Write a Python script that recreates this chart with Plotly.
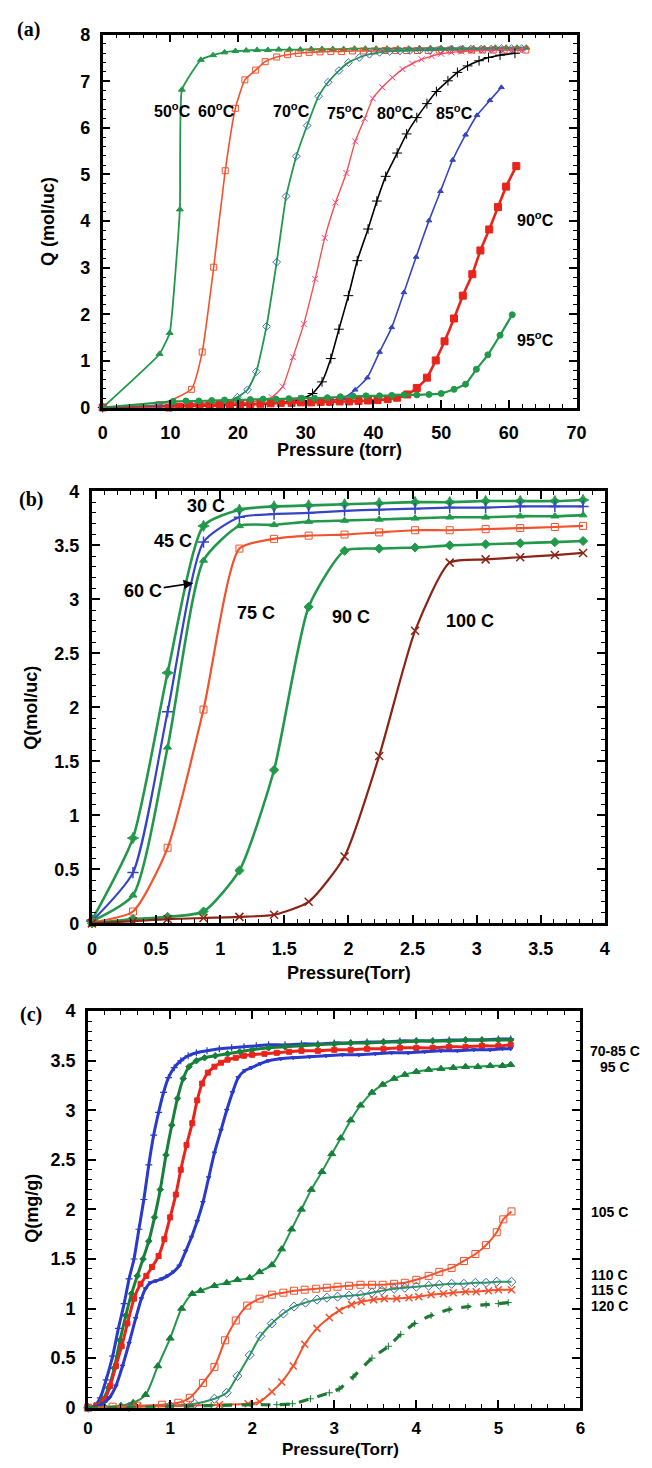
import plotly.graph_objects as go

W, H = 652, 1468

# ---------------- panel (a): Q (mol/uc) vs pressure (torr) ----------------
a_x50 = [0, 8.4, 9.9, 11.4, 11.7, 14.5, 16.3, 18.0, 19.6, 21.2, 22.8, 24.4, 26.0, 27.6, 29.2, 30.8, 32.4, 34.0,
         35.6, 37.2, 38.8, 40.4, 42.0, 43.6, 45.2, 46.8, 48.4, 50.0, 51.6, 53.2, 54.8, 56.4, 58.0, 59.6, 61.2, 62.6]
a_y50 = [0, 1.15, 1.6, 4.25, 6.82, 7.46, 7.56, 7.62, 7.65, 7.66, 7.67, 7.67, 7.68, 7.68, 7.68, 7.69, 7.69, 7.69,
         7.69, 7.70, 7.70, 7.70, 7.70, 7.70, 7.70, 7.71, 7.71, 7.71, 7.71, 7.71, 7.71, 7.71, 7.72, 7.72, 7.72, 7.72]

a_x60 = [0, 8.3, 13.1, 14.7, 16.4, 18.1, 19.6, 21.0, 22.6, 24.0, 25.7, 27.3, 28.9, 30.5, 32.1, 33.7, 35.3,
         36.9, 38.5, 40.1, 41.7, 43.3, 44.9, 46.5, 48.1, 49.7, 51.3, 52.9, 54.5, 56.1, 57.7, 59.3, 60.9, 62.5]
a_y60 = [0, 0.06, 0.39, 1.19, 3.01, 5.08, 6.42, 7.03, 7.24, 7.42, 7.52, 7.57, 7.60, 7.62, 7.63, 7.64, 7.64,
         7.65, 7.65, 7.65, 7.66, 7.66, 7.66, 7.66, 7.66, 7.67, 7.67, 7.67, 7.67, 7.67, 7.67, 7.67, 7.67, 7.67]

a_x70 = [0, 8.2, 14.0, 18.0, 19.9, 21.4, 22.7, 24.2, 25.7, 27.1, 28.6, 30.2, 31.9, 33.3, 34.9, 36.3, 37.9,
         39.4, 40.9, 42.4, 43.9, 45.4, 46.9, 48.4, 49.9, 51.4, 52.9, 54.4, 55.9, 57.4, 58.9, 60.4, 61.9]
a_y70 = [0, 0.04, 0.08, 0.13, 0.22, 0.38, 0.77, 1.74, 3.12, 4.53, 5.39, 6.05, 6.68, 6.98, 7.23, 7.40, 7.51,
         7.58, 7.62, 7.64, 7.65, 7.66, 7.67, 7.67, 7.68, 7.68, 7.68, 7.69, 7.69, 7.69, 7.70, 7.70, 7.70]

a_x75 = [0, 8.0, 16.0, 22.0, 25.0, 26.6, 28.1, 29.7, 31.4, 32.8, 34.4, 36.0, 37.3, 38.7, 39.9, 41.3, 42.8,
         44.3, 45.7, 47.1, 48.6, 50.0, 51.5, 53.0, 54.5, 56.0, 57.5, 59.0, 60.5, 62.0]
a_y75 = [0, 0.03, 0.08, 0.12, 0.22, 0.45, 1.08, 1.79, 2.76, 3.64, 4.40, 5.03, 5.71, 6.20, 6.63, 6.87, 7.08,
         7.26, 7.38, 7.47, 7.54, 7.59, 7.62, 7.64, 7.65, 7.66, 7.66, 7.67, 7.67, 7.67]

a_x80 = [0, 10.0, 20.0, 26.0, 29.0, 31.0, 32.4, 33.7, 34.9, 36.3, 37.6, 39.2, 40.5, 41.8, 43.5, 44.9, 46.4,
         47.9, 49.3, 51.0, 52.4, 53.9, 55.6, 57.0, 58.7, 60.9]
a_y80 = [0, 0.02, 0.05, 0.10, 0.16, 0.30, 0.55, 1.05, 1.68, 2.40, 3.15, 3.83, 4.43, 4.96, 5.46, 5.87, 6.22,
         6.52, 6.78, 7.01, 7.19, 7.33, 7.44, 7.51, 7.56, 7.60]

a_x85 = [0, 10, 20, 28, 33.0, 35.5, 37.3, 39.1, 40.9, 42.7, 44.5, 46.3, 48.2, 49.9, 51.7, 53.6, 55.3, 57.2, 58.9]
a_y85 = [0, 0.03, 0.07, 0.10, 0.14, 0.20, 0.38, 0.64, 1.19, 1.72, 2.47, 3.23, 4.01, 4.64, 5.31, 5.85, 6.27,
         6.59, 6.87]

a_x90 = [0, 9.8, 11.3, 12.8, 14.3, 15.8, 17.3, 18.8, 20.3, 21.8, 23.3, 24.8, 26.3, 27.9, 29.3, 30.8, 32.2,
         33.6, 35.0, 36.4, 37.8, 39.2, 40.6, 42.1, 43.5, 45.0, 46.4, 47.9, 49.2, 50.5, 51.9, 53.2, 54.6,
         55.8, 57.1, 58.4, 59.6, 61.1]
a_y90 = [0, 0.0, 0.02, 0.03, 0.04, 0.05, 0.05, 0.06, 0.07, 0.07, 0.08, 0.09, 0.10, 0.10, 0.11, 0.11, 0.12,
         0.12, 0.13, 0.13, 0.14, 0.15, 0.16, 0.18, 0.21, 0.28, 0.42, 0.64, 1.01, 1.42, 1.91, 2.40, 2.86,
         3.37, 3.82, 4.30, 4.74, 5.18]

a_x95 = [0, 10.4, 12.3, 14.2, 16.1, 18.0, 19.9, 21.8, 23.7, 25.6, 27.5, 29.4, 31.3, 33.2, 35.1, 37.0, 38.9,
         40.9, 42.7, 44.5, 46.4, 48.2, 50.0, 51.9, 53.6, 55.2, 56.9, 58.7, 60.5]
a_y95 = [0, 0.13, 0.14, 0.14, 0.15, 0.16, 0.16, 0.17, 0.18, 0.18, 0.19, 0.20, 0.20, 0.21, 0.23, 0.24, 0.25,
         0.25, 0.26, 0.27, 0.27, 0.28, 0.30, 0.39, 0.50, 0.82, 1.13, 1.55, 1.99]

a_labels = ["50<sup>o</sup>C", "60<sup>o</sup>C", "70<sup>o</sup>C", "75<sup>o</sup>C", "80<sup>o</sup>C",
            "85<sup>o</sup>C", "90<sup>o</sup>C", "95<sup>o</sup>C"]
a_label_x = [10.3, 16.8, 27.9, 35.9, 43.2, 52.0, 64.0, 64.0]
a_label_y = [6.38, 6.38, 6.38, 6.34, 6.34, 6.33, 4.04, 1.47]

# ---------------- panel (b): Q (mol/uc) vs pressure (Torr) ----------------
b_x = [0, 0.32, 0.59, 0.87, 1.15, 1.42, 1.69, 1.97, 2.24, 2.52, 2.79, 3.07, 3.34, 3.61, 3.83]
b_y30 = [0.03, 0.79, 2.32, 3.68, 3.83, 3.86, 3.87, 3.88, 3.89, 3.90, 3.90, 3.91, 3.91, 3.91, 3.92]
b_y45 = [0.02, 0.47, 1.96, 3.53, 3.76, 3.79, 3.80, 3.82, 3.83, 3.84, 3.85, 3.85, 3.86, 3.86, 3.86]
b_y60 = [0.02, 0.26, 1.63, 3.36, 3.68, 3.69, 3.72, 3.73, 3.74, 3.75, 3.76, 3.76, 3.77, 3.77, 3.78]
b_y75 = [0.01, 0.11, 0.70, 1.98, 3.47, 3.56, 3.59, 3.60, 3.62, 3.64, 3.64, 3.65, 3.66, 3.67, 3.68]
b_y90 = [0.0, 0.04, 0.06, 0.11, 0.49, 1.42, 2.93, 3.45, 3.47, 3.48, 3.50, 3.51, 3.52, 3.53, 3.54]
b_y100 = [0.0, 0.02, 0.04, 0.05, 0.06, 0.08, 0.20, 0.62, 1.55, 2.71, 3.34, 3.37, 3.39, 3.41, 3.43]

b_labels = ["30 C", "45 C", "75 C", "90 C", "100 C"]
b_label_x = [0.89, 0.63, 1.28, 2.02, 2.95]
b_label_y = [3.86, 3.54, 2.87, 2.84, 2.80]

# ---------------- panel (c): Q (mg/g) vs pressure (Torr) ----------------
c_x70 = [0, 0.08, 0.15, 0.22, 0.3, 0.37, 0.44, 0.5, 0.56, 0.62, 0.68, 0.74, 0.8, 0.86, 0.92, 0.98, 1.05,
         1.13, 1.22, 1.32, 1.45, 1.6, 1.75, 1.9, 2.05, 2.2, 2.4, 2.6, 2.8, 3.0, 3.2, 3.4, 3.6, 3.8, 4.0,
         4.2, 4.4, 4.6, 4.8, 5.0, 5.15]
c_y70 = [0, 0.02, 0.1, 0.28, 0.52, 0.8, 1.05, 1.3, 1.5, 1.8, 2.1, 2.45, 2.75, 2.98, 3.18, 3.33, 3.43,
         3.5, 3.55, 3.58, 3.6, 3.62, 3.63, 3.64, 3.65, 3.66, 3.66, 3.67, 3.67, 3.68, 3.68, 3.69, 3.69, 3.7,
         3.7, 3.7, 3.71, 3.71, 3.71, 3.72, 3.72]

c_x75 = [0, 0.1, 0.18, 0.25, 0.32, 0.39, 0.46, 0.53, 0.6, 0.67, 0.74, 0.81, 0.88, 0.95, 1.02, 1.09, 1.16,
         1.23, 1.32, 1.42, 1.55, 1.7, 1.85, 2.0, 2.2, 2.4, 2.6, 2.8, 3.0, 3.2, 3.4, 3.6, 3.8, 4.0, 4.2,
         4.4, 4.6, 4.8, 5.0, 5.15]
c_y75 = [0, 0.02, 0.08, 0.2, 0.4, 0.68, 0.93, 1.15, 1.33, 1.5, 1.68, 1.92, 2.2, 2.55, 2.85, 3.12, 3.32,
         3.44, 3.5, 3.53, 3.55, 3.57, 3.59, 3.61, 3.63, 3.64, 3.65, 3.66, 3.67, 3.68, 3.68, 3.69, 3.69,
         3.70, 3.70, 3.70, 3.71, 3.71, 3.71, 3.71]

c_x80 = [0, 0.1, 0.2, 0.27, 0.34, 0.41, 0.48, 0.56, 0.64, 0.71, 0.78, 0.86, 0.93, 1.0, 1.07, 1.13, 1.2,
         1.27, 1.33, 1.39, 1.46, 1.54, 1.62, 1.7, 1.8, 1.9, 2.0, 2.15, 2.3, 2.45, 2.6, 2.8, 3.0, 3.2, 3.4,
         3.6, 3.8, 4.0, 4.2, 4.4, 4.6, 4.8, 5.0, 5.15]
c_y80 = [0, 0.02, 0.08, 0.22, 0.42, 0.62, 0.85, 1.1, 1.25, 1.33, 1.42, 1.53, 1.7, 1.92, 2.15, 2.4, 2.65,
         2.87, 3.1, 3.27, 3.38, 3.44, 3.48, 3.51, 3.53, 3.55, 3.56, 3.57, 3.58, 3.59, 3.6, 3.6, 3.61, 3.61,
         3.62, 3.62, 3.63, 3.63, 3.63, 3.64, 3.64, 3.65, 3.65, 3.66]

c_x85 = [0, 0.1, 0.18, 0.26, 0.34, 0.42, 0.5, 0.58, 0.65, 0.7, 0.76, 0.83, 0.9, 0.97, 1.04, 1.11, 1.19,
         1.26, 1.33, 1.4, 1.47, 1.54, 1.62, 1.69, 1.76, 1.83, 1.91, 1.99, 2.1, 2.2, 2.35, 2.5, 2.7, 2.9,
         3.1, 3.3, 3.5, 3.7, 3.9, 4.1, 4.3, 4.5, 4.7, 4.9, 5.05, 5.15]
c_y85 = [0, 0.01, 0.04, 0.1, 0.22, 0.42, 0.65, 0.9, 1.1, 1.2, 1.26, 1.28, 1.3, 1.33, 1.37, 1.43, 1.58,
         1.72, 1.88, 2.07, 2.32, 2.57, 2.8, 3.0, 3.18, 3.33, 3.4, 3.43, 3.47, 3.5, 3.52, 3.53, 3.54, 3.55,
         3.56, 3.56, 3.57, 3.58, 3.58, 3.59, 3.6, 3.6, 3.61, 3.61, 3.62, 3.62]

c_x95 = [0, 0.2, 0.4, 0.55, 0.7, 0.85, 1.0, 1.14, 1.27, 1.37, 1.54, 1.69, 1.82, 1.97, 2.09, 2.24, 2.36,
         2.48, 2.6, 2.72, 2.85, 2.97, 3.08, 3.2, 3.32, 3.46, 3.59, 3.73, 3.86, 4.0, 4.15, 4.3, 4.45, 4.6,
         4.75, 4.9, 5.05, 5.15]
c_y95 = [0, 0.01, 0.02, 0.05, 0.13, 0.42, 0.7, 1.0, 1.15, 1.18, 1.23, 1.26, 1.29, 1.31, 1.37, 1.44, 1.6,
         1.8, 2.0, 2.2, 2.38, 2.56, 2.72, 2.9, 3.05, 3.18, 3.26, 3.32, 3.36, 3.39, 3.41, 3.42, 3.43, 3.44,
         3.44, 3.45, 3.45, 3.46]

c_x105 = [0, 0.3, 0.6, 0.9, 1.1, 1.24, 1.4, 1.54, 1.67, 1.8, 1.94, 2.09, 2.24, 2.38, 2.51, 2.64, 2.78,
          2.91, 3.04, 3.18, 3.32, 3.46, 3.59, 3.73, 3.86, 4.0, 4.15, 4.28, 4.43, 4.58, 4.72, 4.85, 4.98,
          5.06, 5.16]
c_y105 = [0, 0.01, 0.02, 0.03, 0.05, 0.1, 0.25, 0.41, 0.68, 0.88, 1.03, 1.1, 1.14, 1.16, 1.18, 1.19, 1.2,
          1.21, 1.22, 1.23, 1.24, 1.24, 1.24, 1.25, 1.26, 1.29, 1.33, 1.37, 1.41, 1.48, 1.55, 1.64, 1.77,
          1.9, 1.98]

c_x110 = [0, 0.5, 1.0, 1.3, 1.54, 1.69, 1.82, 1.97, 2.1, 2.24, 2.38, 2.51, 2.65, 2.79, 2.91, 3.04, 3.18,
          3.32, 3.46, 3.58, 3.73, 3.86, 4.0, 4.15, 4.28, 4.43, 4.58, 4.72, 4.85, 4.98, 5.16]
c_y110 = [0, 0.01, 0.02, 0.04, 0.09, 0.15, 0.32, 0.53, 0.72, 0.85, 0.95, 1.02, 1.06, 1.09, 1.11, 1.12,
          1.13, 1.14, 1.16, 1.18, 1.2, 1.21, 1.22, 1.23, 1.24, 1.25, 1.25, 1.26, 1.26, 1.27, 1.27]

c_x115 = [0, 0.6, 1.2, 1.6, 1.95, 2.09, 2.24, 2.36, 2.5, 2.64, 2.79, 2.94, 3.06, 3.21, 3.33, 3.48, 3.61,
          3.76, 3.91, 4.03, 4.18, 4.33, 4.45, 4.6, 4.73, 4.88, 5.0, 5.16]
c_y115 = [0, 0.01, 0.02, 0.03, 0.04, 0.06, 0.16, 0.26, 0.42, 0.64, 0.8, 0.91, 0.98, 1.04, 1.07, 1.09, 1.1,
          1.1, 1.11, 1.12, 1.14, 1.15, 1.16, 1.17, 1.17, 1.18, 1.19, 1.19]

c_x120 = [0, 0.5, 1.0, 1.5, 2.0, 2.3, 2.49, 2.71, 2.94, 3.06, 3.23, 3.46, 3.66, 3.81, 3.98, 4.18, 4.4,
          4.63, 4.85, 5.0, 5.12]
c_y120 = [0, 0.0, 0.01, 0.02, 0.03, 0.03, 0.04, 0.09, 0.15, 0.19, 0.31, 0.5, 0.62, 0.74, 0.85, 0.93, 0.99,
          1.02, 1.04, 1.05, 1.06]

c_labels = ["70-85 C", "95 C", "105 C", "110 C", "115 C", "120 C"]
c_label_y = [3.60, 3.44, 1.97, 1.34, 1.185, 1.03]

# ---------------- styling ----------------
SANS = "Liberation Sans, Arial, sans-serif"
SERIF = "Liberation Serif, Times New Roman, serif"

GREEN = "#22984a"
DKGREEN = "#17803a"
ORANGE = "#f2522c"
RED = "#e8241b"
BLUE = "#3444c2"
PINK = "#ff3f86"
BROWN = "#8c2315"

fig = go.Figure()


def add(xs, ys, panel, color, width, symbol, msize, mcolor=None, dash=None, smooth=0.6, mline=1.0):
    fig.add_trace(go.Scatter(
        x=xs, y=ys, xaxis="x" + panel, yaxis="y" + panel,
        mode="lines+markers", cliponaxis=False, showlegend=False,
        line=dict(color=color, width=width, shape="spline", smoothing=smooth, dash=dash),
        marker=dict(symbol=symbol, size=msize, color=mcolor or color,
                    line=dict(color=mcolor or color, width=mline)),
    ))


# panel (a)
add(a_x50, a_y50, "", GREEN, 1.8, "triangle-up", 6, smooth=0.35)
add(a_x60, a_y60, "", ORANGE, 1.6, "square-open", 6, smooth=0.45)
add(a_x70, a_y70, "", GREEN, 1.8, "diamond-open", 6, mcolor="#3c6cc8", smooth=0.45)
add(a_x75, a_y75, "", "#f4504c", 1.4, "x-thin-open", 6, mcolor=PINK, smooth=0.45)
add(a_x80, a_y80, "", "black", 1.6, "cross-thin-open", 7, smooth=0.45)
add(a_x85, a_y85, "", BLUE, 1.6, "triangle-up", 5, smooth=0.45)
add(a_x90, a_y90, "", RED, 2.6, "square", 7, smooth=0.45)
add(a_x95, a_y95, "", GREEN, 2.2, "circle", 6, smooth=0.45)

# panel (b)
add(b_x, b_y30, "2", GREEN, 2.6, "star-diamond", 8)
add(b_x, b_y45, "2", BLUE, 2.2, "cross-thin-open", 8, mline=1.5)
add(b_x, b_y60, "2", GREEN, 2.6, "triangle-up", 7)
add(b_x, b_y75, "2", ORANGE, 2.2, "square-open", 7)
add(b_x, b_y90, "2", GREEN, 2.6, "diamond", 7)
add(b_x, b_y100, "2", BROWN, 2.2, "x-thin-open", 8, mline=1.5)

# panel (c)
add(c_x70, c_y70, "3", "#2a3bcb", 3.0, "cross-thin-open", 5, mline=1.2)
add(c_x75, c_y75, "3", DKGREEN, 3.0, "diamond", 5)
add(c_x80, c_y80, "3", RED, 3.0, "square", 5)
add(c_x85, c_y85, "3", "#2a3bcb", 3.0, "triangle-down", 4)
add(c_x95, c_y95, "3", GREEN, 2.0, "triangle-up", 7, mcolor="#16803a", smooth=0.8)
add(c_x105, c_y105, "3", ORANGE, 2.0, "square-open", 7, smooth=0.8)
add(c_x110, c_y110, "3", "#2a9a55", 2.0, "diamond-open", 7, mcolor="#3c66c8", smooth=0.8)
add(c_x115, c_y115, "3", ORANGE, 2.0, "x-thin-open", 7, mline=1.5, smooth=0.8)
add(c_x120, c_y120, "3", "#1c7a32", 3.2, "cross-thin-open", 5, dash="dash", smooth=0.8)

tickfont = dict(family=SANS, size=18, color="black", weight="bold")


def axis(rng, dtick, minor, domain, anchor, lw, standoff, size=18):
    return dict(range=rng, domain=domain, anchor=anchor, dtick=dtick, tick0=0,
                showline=True, linecolor="black", linewidth=lw, mirror="allticks",
                ticks="inside", ticklen=8, tickwidth=1.6, tickcolor="black",
                minor=dict(ticks="inside", ticklen=4, tickwidth=1.2, tickcolor="black",
                           dtick=minor, showgrid=False),
                showgrid=False, zeroline=False,
                tickfont=dict(family=SANS, size=size, color="black", weight="bold"),
                ticklabelstandoff=standoff, fixedrange=True)


def px_x(p):
    return p / W


def px_y(p):
    return 1 - p / H


dom_a_x = [px_x(100), px_x(585)]
dom_a_y = [px_y(403), px_y(25)]
dom_b_x = [px_x(89), px_x(614)]
dom_b_y = [px_y(926), px_y(488)]
dom_c_x = [px_x(85), px_x(589)]
dom_c_y = [px_y(1417), px_y(1015)]

annotations = []


def note(text, x, y, size, xref="paper", yref="paper", family=SANS, weight="bold",
         xanchor="center", angle=0):
    annotations.append(dict(text=text, x=x, y=y, xref=xref, yref=yref, showarrow=False,
                            xanchor=xanchor, yanchor="middle", textangle=angle,
                            font=dict(family=family, size=size, color="black", weight=weight)))


# panel letters
note("(a)", px_x(24), px_y(20), 20, family=SERIF)
note("(b)", px_x(27), px_y(496), 20, family=SERIF)
note("(c)", px_x(27), px_y(1018), 20, family=SERIF)

# axis titles
note("Pressure (torr)", px_x(342), px_y(446), 18)
note("Q (mol/uc)", px_x(44), px_y(214), 18, angle=-90)
note("Pressure(Torr)", px_x(352), px_y(976), 18)
note("Q(mol/uc)", px_x(27), px_y(707), 18, angle=-90)
note("Pressure(Torr)", px_x(343), px_y(1459), 17)
note("Q(mg/g)", px_x(28), px_y(1215), 18, angle=-90)

# curve labels
for t, x, y in zip(a_labels, a_label_x, a_label_y):
    note(t, x, y, 16, xref="x", yref="y")
for t, x, y in zip(b_labels, b_label_x, b_label_y):
    note(t, x, y, 18, xref="x2", yref="y2")
annotations.append(dict(text="60 C", x=0.79, y=3.15, ax=0.40, ay=3.08, xref="x2", yref="y2",
                        axref="x2", ayref="y2", showarrow=True, arrowhead=2, arrowsize=1.2,
                        arrowwidth=1.6, arrowcolor="black",
                        font=dict(family=SANS, size=18, color="black", weight="bold")))
for t, y in zip(c_labels, c_label_y):
    if t in ("70-85 C", "95 C"):
        note(t, px_x(624), y, 14, yref="y3")
    else:
        note(t, px_x(598), y, 14, yref="y3", xanchor="left")

fig.update_layout(
    width=W, height=H, margin=dict(l=0, r=0, t=0, b=0),
    paper_bgcolor="white", plot_bgcolor="white",
    xaxis=axis([0, 70], 10, 2, dom_a_x, "y", 2.6, 7),
    yaxis=axis([0, 8], 1, 0.2, dom_a_y, "x", 2.6, 6),
    xaxis2=axis([0, 4], 0.5, 0.1, dom_b_x, "y2", 3.0, 7),
    yaxis2=axis([0, 4], 0.5, 0.1, dom_b_y, "x2", 3.0, 6),
    xaxis3=axis([0, 6], 1, 0.2, dom_c_x, "y3", 3.0, 3, size=17),
    yaxis3=axis([0, 4], 0.5, 0.1, dom_c_y, "x3", 3.0, 6),
    annotations=annotations,
)

fig.write_html("out.html")
